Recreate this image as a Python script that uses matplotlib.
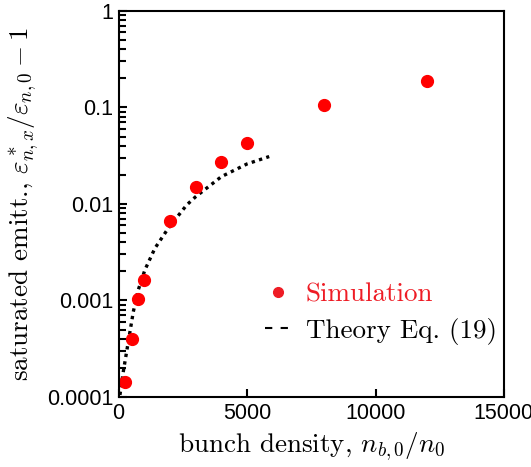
import matplotlib
matplotlib.use("Agg")
import matplotlib.pyplot as plt
from matplotlib.lines import Line2D

# simulation points
sim_density = [250, 500, 750, 1000, 2000, 3000, 4000, 5000, 8000, 12000]
sim_emitt = [1.42e-4, 4.0e-4, 1.04e-3, 1.63e-3, 6.6e-3, 0.0151, 0.0275, 0.0432, 0.107, 0.188]

# theory curve, Eq. (19)
th_density = [50, 180, 310, 440, 570, 760, 1020, 1410, 1930, 2650, 3000, 4000, 5000, 5860]
th_emitt = [1.05e-4, 1.83e-4, 2.95e-4, 4.75e-4, 7.65e-4, 1.28e-3, 2.07e-3, 3.47e-3,
            5.6e-3, 9.77e-3, 0.0119, 0.0192, 0.026, 0.031]

yticks = [1e-4, 1e-3, 1e-2, 1e-1, 1]
ytick_labels = ["0.0001", "0.001", "0.01", "0.1", "1"]
xticks = [0, 5000, 10000, 15000]

plt.rcParams['font.family'] = 'cmr10'
plt.rcParams['mathtext.fontset'] = 'cm'
plt.rcParams['axes.formatter.use_mathtext'] = True

fig = plt.figure(figsize=(5.31, 4.67), dpi=100)
ax = fig.add_axes([0.2235, 0.150, 0.7255, 0.8265])

ax.plot(th_density, th_emitt, color='black', lw=2.4, linestyle=(0, (1, 1.3)))
ax.plot(sim_density, sim_emitt, 'o', color='#ff0000', ms=8.5, mec='#ff0000')

ax.set_yscale('log')
ax.set_xlim(0, 15000)
ax.set_ylim(1e-4, 1)
ax.set_xticks(xticks)
ax.set_xticklabels([str(t) for t in xticks])
ax.set_yticks(yticks)
ax.set_yticklabels(ytick_labels)

for lab in ax.get_xticklabels() + ax.get_yticklabels():
    lab.set_fontfamily('Liberation Sans')
    lab.set_fontsize(15.5)

for s in ax.spines.values():
    s.set_linewidth(1.5)
ax.tick_params(which='both', direction='in', top=False, right=False, width=1.5)
ax.tick_params(which='major', length=6, pad=4)
ax.tick_params(which='minor', length=5)

ax.set_xlabel(r'bunch density, $n_{b,0}/n_0$', fontsize=19.5, labelpad=5)
ax.set_ylabel(r'saturated emitt., $\varepsilon^*_{n,x}/\varepsilon_{n,0}-1$', fontsize=19.5, labelpad=4)

handles = [
    Line2D([], [], marker='o', linestyle='none', color='#ee1c25', ms=7),
    Line2D([], [], color='black', lw=1.5, linestyle=(0, (3.5, 4))),
]
leg = ax.legend(handles, ['Simulation', 'Theory Eq. (19)'], loc='lower right',
                bbox_to_anchor=(1.016, 0.10), frameon=False, fontsize=19.5,
                handlelength=1.0, handletextpad=0.5, labelspacing=0.42, borderaxespad=0.1)
leg.get_texts()[0].set_color('#ee1c25')

fig.savefig('out.png', dpi=100)
